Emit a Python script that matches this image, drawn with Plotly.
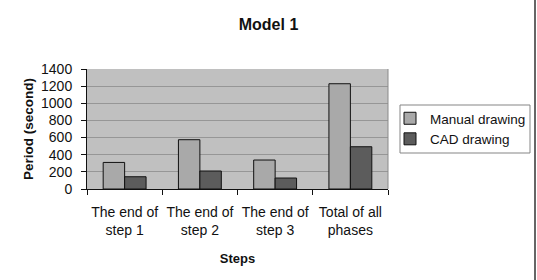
import plotly.graph_objects as go

categories = ["The end of<br>step 1", "The end of<br>step 2", "The end of<br>step 3", "Total of all<br>phases"]
manual = [310, 575, 338, 1228]
cad = [143, 210, 128, 493]
y_ticks = [0, 200, 400, 600, 800, 1000, 1200, 1400]

FONT = "Liberation Sans, Arial, sans-serif"
L, R, T, B = 87, 149, 69, 91
W, H = 537, 280
PW, PH = W - L - R, H - T - B

def px_x(x):
    return (x - L) / PW

def px_y(y):
    return (H - B - y) / PH

fig = go.Figure()
fig.add_trace(go.Bar(name="Manual drawing", x=categories, y=manual,
                     marker=dict(color="#A9A9A9", line=dict(color="#111111", width=1))))
fig.add_trace(go.Bar(name="CAD drawing", x=categories, y=cad,
                     marker=dict(color="#5C5C5C", line=dict(color="#111111", width=1))))

fig.update_layout(
    width=W, height=H,
    margin=dict(l=L, r=R, t=T, b=B, autoexpand=False),
    paper_bgcolor="white", plot_bgcolor="#C0C0C0",
    barmode="group", bargap=0.43, bargroupgap=0,
    font=dict(family=FONT, color="#111111", size=13),
    title=dict(text="<b>Model 1</b>", x=0.5, xref="container", xanchor="center",
               y=1 - 24/280, yanchor="middle", font=dict(size=16, family=FONT)),
    legend=dict(xref="container", yref="container", x=390/W, y=1 - 103/H,
                xanchor="left", yanchor="top",
                borderwidth=0, bgcolor="rgba(0,0,0,0)",
                font=dict(size=13.5, family=FONT), tracegroupgap=2,
                itemwidth=30),
    xaxis=dict(showline=True, linecolor="#111111", linewidth=1, automargin=False,
               ticks="outside", tickson="boundaries", ticklen=5, tickcolor="#111111",
               tickangle=0, ticklabelstandoff=10,
               tickfont=dict(size=14), title=dict(text="<b>Steps</b>", font=dict(size=13), standoff=16)),
    yaxis=dict(range=[0, 1400], tickvals=y_ticks, showline=True, linecolor="#111111", linewidth=1,
               automargin=False,
               ticks="outside", ticklen=5, tickcolor="#111111", ticklabelstandoff=6,
               gridcolor="#969696", gridwidth=1, zeroline=False,
               tickfont=dict(size=14),
               title=dict(text="<b>Period (second)</b>", font=dict(size=13.5), standoff=4)),
)
# plot-area right border
fig.add_shape(type="line", xref="paper", yref="paper", x0=1, x1=1, y0=0, y1=1,
              line=dict(color="#8A8A8A", width=1))
# legend box
fig.add_shape(type="rect", xref="paper", yref="paper", x0=px_x(400), x1=px_x(530),
              y0=px_y(153), y1=px_y(105), line=dict(color="#858585", width=1))
# chart right border
fig.add_shape(type="line", xref="paper", yref="paper", x0=px_x(535), x1=px_x(535),
              y0=px_y(280), y1=px_y(0), line=dict(color="#333333", width=1.5))

fig.write_html("out.html")
